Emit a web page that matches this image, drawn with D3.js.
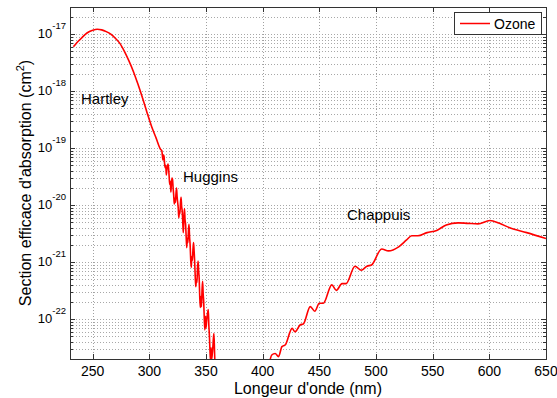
<!DOCTYPE html>
<html>
<head>
<meta charset="utf-8">
<script src="https://cdn.jsdelivr.net/npm/d3@7"></script>
<style>
  body { margin: 0; background: #fff; }
  svg { font-family: "Liberation Sans", Arial, sans-serif; }
</style>
</head>
<body>
<div id="chart"></div>
<script>
// Sections efficaces d'absorption de l'ozone

// bande de Hartley
const hartleyNm = [233, 236, 240, 245, 250, 254, 258, 262, 266, 270, 274, 278, 282, 286, 290, 294, 298, 302, 306];
const hartleySigma = [6.0e-18, 7.1e-18, 8.5e-18, 1.05e-17, 1.17e-17, 1.22e-17, 1.19e-17, 1.11e-17, 1.0e-17, 8.5e-18,
    6.9e-18, 5.0e-18, 3.4e-18, 2.2e-18, 1.32e-18, 7.6e-19, 4.2e-19, 2.4e-19, 1.5e-19];

// bande de Huggins
const hugginsNm = [310, 311, 312, 312.5, 313, 313.5, 314, 314.5, 315, 315.5, 316, 316.5, 317, 317.5, 318, 318.5,
    319, 319.5, 320, 320.5, 321, 321.5, 322, 322.5, 323, 323.5, 324, 324.5, 325, 325.5, 326, 326.5,
    327, 327.5, 328, 328.5, 329, 329.5, 330, 330.5, 331, 331.5, 332, 332.5, 333, 333.5, 334, 334.5,
    335, 335.5, 336, 336.5, 337, 337.5, 338, 338.5, 339, 339.5, 340, 340.5, 341, 341.5, 342, 342.5,
    343, 343.5, 344, 344.5, 345, 345.5, 346, 346.5, 347, 347.5, 348, 348.5, 349, 349.5, 350, 350.5,
    351, 351.5, 352, 352.5, 353, 353.5, 354, 354.5, 355, 355.5, 356, 356.5, 357, 357.5, 358, 358.5,
    359, 359.5, 360, 360.5, 361, 361.5, 362, 370, 390, 404];
const hugginsSigma = [9.5e-20, 9.1e-20, 6.2e-20, 7.6e-20, 7.1e-20, 5.25e-20, 4.5e-20, 5.0e-20, 3.4e-20, 4.2e-20,
    4.8e-20, 5.25e-20, 4.4e-20, 3.16e-20, 2.3e-20, 2.63e-20, 1.7e-20, 2.4e-20, 3.0e-20, 2.8e-20,
    2.0e-20, 1.5e-20, 1.05e-20, 1.32e-20, 1.12e-20, 1.58e-20, 2.0e-20, 1.41e-20, 1.12e-20, 8.9e-21,
    6.0e-21, 7.9e-21, 7.1e-21, 1.12e-20, 1.38e-20, 9.5e-21, 7.9e-21, 5.0e-21, 3.3e-21, 6.0e-21,
    8.7e-21, 5.6e-21, 4.6e-21, 2.8e-21, 1.8e-21, 2.63e-21, 2.2e-21, 3.55e-21, 4.6e-21, 2.8e-21,
    2.0e-21, 1.12e-21, 8.1e-22, 1.26e-21, 1.07e-21, 1.66e-21, 2.2e-21, 1.58e-21, 1.02e-21, 5.6e-22,
    3.7e-22, 5.0e-22, 4.4e-22, 7.9e-22, 1.05e-21, 7.1e-22, 5.1e-22, 2.4e-22, 1.6e-22, 2.5e-22,
    1.66e-22, 3.16e-22, 4.6e-22, 2.8e-22, 1.95e-22, 1.0e-22, 6.5e-23, 1.12e-22, 7.1e-23, 8.9e-23,
    1.1e-22, 1.32e-22, 1.48e-22, 7.9e-23, 5.2e-23, 2.8e-23, 1.86e-23, 3.16e-23, 2.0e-23, 2.4e-23,
    3.1e-23, 4.5e-23, 5.6e-23, 2.8e-23, 1.45e-23, 8.9e-24, 5.6e-24, 8.9e-24, 1.07e-23, 1.41e-23,
    1.3e-23, 6.3e-24, 2.5e-24, 1.5e-24, 1.0e-24, 1.1e-23];

// bande de Chappuis
const chappuisNm = [408, 411, 414, 417, 420, 426, 428.5, 433, 436, 442, 446, 450, 453.5, 461, 465, 470, 473.5,
    481.5, 487, 492, 496, 505, 511, 520, 527, 531.5, 537, 545, 553.5, 562, 572.5, 581, 590, 600.5,
    609, 618, 633, 650];
const chappuisSigma = [2.35e-23, 2.5e-23, 2.2e-23, 3.3e-23, 3.55e-23, 6.9e-23, 6.0e-23, 7.9e-23, 8.3e-23,
    1.66e-22, 1.38e-22, 1.9e-22, 1.9e-22, 4.0e-22, 3.2e-22, 4.2e-22, 4.2e-22, 8.5e-22, 7.2e-22,
    8.5e-22, 8.9e-22, 1.7e-21, 1.58e-21, 1.86e-21, 2.45e-21, 2.9e-21, 2.9e-21, 3.3e-21, 3.6e-21,
    4.5e-21, 4.9e-21, 4.8e-21, 4.7e-21, 5.4e-21, 4.8e-21, 4.0e-21, 3.3e-21, 2.6e-21];

const xTicks = [250, 300, 350, 400, 450, 500, 550, 600, 650];
const yExponents = [-22, -21, -20, -19, -18, -17];

// noms des bandes et point d'ancrage (nm, section efficace)
const bandNames = ["Hartley", "Huggins", "Chappuis"];
const bandAnchorNm = [239.7, 329.7, 474.4];
const bandAnchorSigma = [6.0e-19, 2.55e-20, 5.5e-21];

const seriesName = "Ozone";

const width = 557, height = 398;
const margin = { left: 70, right: 11, top: 7, bottom: 39 };

const svg = d3.select("#chart").append("svg")
    .attr("width", width)
    .attr("height", height);

const x = d3.scaleLinear().domain([230, 650]).range([margin.left, width - margin.right]);
const y = d3.scaleLog().domain([2e-23, 3e-17]).range([height - margin.bottom, margin.top]);

const x0 = x.range()[0], x1 = x.range()[1];
const y0 = y.range()[0], y1 = y.range()[1];

// graduations mineures en log
const minorTicks = [];
for (let e = -23; e <= -17; e++) {
    for (let m = 1; m <= 9; m++) {
        const v = m * Math.pow(10, e);
        if (v >= y.domain()[0] && v <= y.domain()[1]) minorTicks.push(v);
    }
}
const majorY = yExponents.map(e => Math.pow(10, e));

// grille
const grid = svg.append("g").attr("class", "grid");
grid.selectAll(".gx")
    .data(xTicks.filter(d => d < 650))
    .join("line")
    .attr("x1", d => Math.round(x(d)) + 0.5)
    .attr("x2", d => Math.round(x(d)) + 0.5)
    .attr("y1", y1)
    .attr("y2", y0)
    .attr("stroke", "#a0a0a0")
    .attr("stroke-dasharray", "1,2");

grid.selectAll(".gy")
    .data(minorTicks)
    .join("line")
    .attr("x1", x0)
    .attr("x2", x1)
    .attr("y1", d => Math.round(y(d)) + 0.5)
    .attr("y2", d => Math.round(y(d)) + 0.5)
    .attr("stroke", "#a8a8a8")
    .attr("stroke-dasharray", "1,2");

// courbe
svg.append("clipPath").attr("id", "clip")
    .append("rect")
    .attr("x", x0).attr("y", y1)
    .attr("width", x1 - x0).attr("height", y0 - y1);

const points = []
    .concat(hartleyNm.map((d, i) => [d, hartleySigma[i]]))
    .concat(hugginsNm.map((d, i) => [d, hugginsSigma[i]]))
    .concat(chappuisNm.map((d, i) => [d, chappuisSigma[i]]));

const line = d3.line()
    .x(d => x(d[0]))
    .y(d => y(d[1]))
    .curve(d3.curveMonotoneX);

svg.append("path")
    .datum(points)
    .attr("clip-path", "url(#clip)")
    .attr("fill", "none")
    .attr("stroke", "#ff0000")
    .attr("stroke-width", 1.6)
    .attr("stroke-linejoin", "round")
    .attr("d", line);

// cadre et graduations vers l'intérieur
const ticks = svg.append("g").attr("stroke", "#333").attr("stroke-width", 1);
xTicks.forEach(d => {
    const px = Math.round(x(d)) + 0.5;
    ticks.append("line").attr("x1", px).attr("x2", px).attr("y1", y0).attr("y2", y0 - 5);
    ticks.append("line").attr("x1", px).attr("x2", px).attr("y1", y1).attr("y2", y1 + 5);
});
minorTicks.forEach(d => {
    const py = Math.round(y(d)) + 0.5;
    const len = majorY.includes(d) ? 5 : 3;
    ticks.append("line").attr("x1", x0).attr("x2", x0 + len).attr("y1", py).attr("y2", py);
    ticks.append("line").attr("x1", x1).attr("x2", x1 - len).attr("y1", py).attr("y2", py);
});
svg.append("rect")
    .attr("x", x0 + 0.5).attr("y", y1 + 0.5)
    .attr("width", x1 - x0).attr("height", y0 - y1)
    .attr("fill", "none")
    .attr("stroke", "#333");

// étiquettes des axes
svg.append("g").selectAll("text")
    .data(xTicks)
    .join("text")
    .attr("x", d => x(d))
    .attr("y", y0 + 17)
    .attr("text-anchor", "middle")
    .attr("font-size", "14px")
    .attr("fill", "#000")
    .text(d => d);

const yLab = svg.append("g").selectAll("text")
    .data(yExponents)
    .join("text")
    .attr("x", x0 - 4)
    .attr("y", d => y(Math.pow(10, d)) + 4)
    .attr("text-anchor", "end")
    .attr("font-size", "13px")
    .attr("fill", "#000");
yLab.append("tspan").text("10");
yLab.append("tspan")
    .attr("dy", -9)
    .attr("font-size", "9.5px")
    .text(d => d);

svg.append("text")
    .attr("x", (x0 + x1) / 2)
    .attr("y", 394)
    .attr("text-anchor", "middle")
    .attr("font-size", "16px")
    .text("Longeur d'onde (nm)");

const yTitle = svg.append("text")
    .attr("transform", `translate(31, ${(y0 + y1) / 2}) rotate(-90)`)
    .attr("text-anchor", "middle")
    .attr("font-size", "16px");
yTitle.append("tspan").text("Section efficace d'absorption (cm");
yTitle.append("tspan").attr("dy", -7).attr("font-size", "11px").text("2");
yTitle.append("tspan").attr("dy", 7).text(")");

// noms des bandes
svg.append("g").selectAll("text")
    .data(bandNames)
    .join("text")
    .attr("x", (d, i) => x(bandAnchorNm[i]))
    .attr("y", (d, i) => y(bandAnchorSigma[i]))
    .attr("font-size", "15px")
    .attr("fill", "#000")
    .text(d => d);

// légende
const legend = svg.append("g");
legend.append("rect")
    .attr("x", 454.5).attr("y", 12.5)
    .attr("width", 87).attr("height", 22)
    .attr("fill", "#fff")
    .attr("stroke", "#333");
legend.append("line")
    .attr("x1", 460).attr("x2", 490)
    .attr("y1", 23.5).attr("y2", 23.5)
    .attr("stroke", "#ff0000")
    .attr("stroke-width", 1.5);
legend.append("text")
    .attr("x", 494).attr("y", 28.5)
    .attr("font-size", "14px")
    .text(seriesName);
</script>
</body>
</html>
